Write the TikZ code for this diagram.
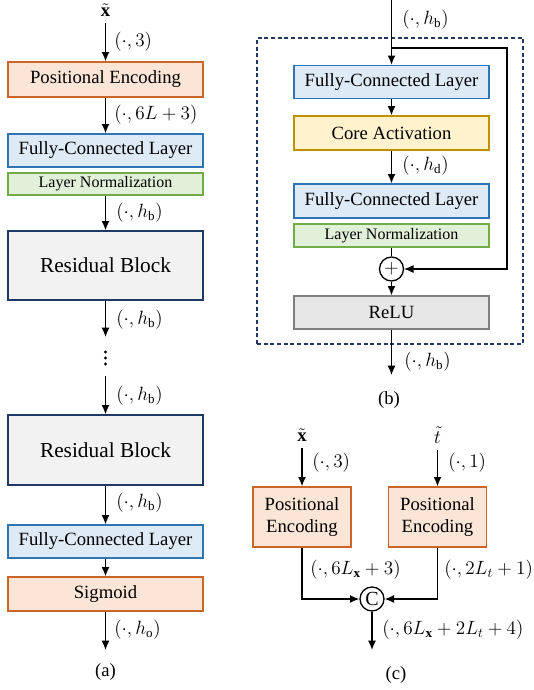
\documentclass[tikz,border=0pt]{standalone}
\usepackage{fontspec}
\setmainfont{Liberation Serif}
\usepackage{amsmath}
\usetikzlibrary{arrows.meta}
\definecolor{peF}{HTML}{FBE5D6}
\definecolor{peB}{RGB}{204,102,40}
\definecolor{fcF}{HTML}{DEEBF7}
\definecolor{fcB}{HTML}{2E75B6}
\definecolor{lnF}{HTML}{E2F0D9}
\definecolor{lnB}{HTML}{70AD47}
\definecolor{caF}{HTML}{FFF2CC}
\definecolor{caB}{HTML}{BF9000}
\definecolor{rbF}{HTML}{F2F2F2}
\definecolor{rbB}{HTML}{203864}
\definecolor{reF}{HTML}{E7E6E6}
\definecolor{reB}{HTML}{7F7F7F}
\begin{document}
\begin{tikzpicture}[x=0.75pt,y=-0.75pt,
  box/.style={draw, line width=1pt, minimum width=146.25pt, minimum height=24.75pt, inner sep=0pt, font=\fontsize{14}{16}\selectfont},
  pe/.style={box, draw=peB, fill=peF},
  fc/.style={box, draw=fcB, fill=fcF},
  lnbox/.style={box, draw=lnB, fill=lnF, minimum height=16.5pt, font=\fontsize{12}{14}\selectfont},
  rb/.style={box, draw=rbB, fill=rbF, font=\fontsize{16}{18}\selectfont},
  cabox/.style={box, draw=caB, fill=caF, minimum height=25.5pt},
  rebox/.style={box, draw=reB, fill=reF},
  pebig/.style={pe, minimum width=73.5pt, minimum height=45pt, align=center, font=\fontsize{14}{17}\selectfont},
  arr/.style={-{Latex[length=7pt,width=6pt]}, line width=1pt},
  lab/.style={anchor=west, inner sep=0pt, font=\fontsize{14}{16}\selectfont},
  captxt/.style={font=\fontsize{14}{16}\selectfont},
  var/.style={font=\fontsize{14}{16}\selectfont, inner sep=0pt, outer sep=5pt},
  opc/.style={draw, circle, line width=1pt, minimum size=18pt, inner sep=0pt, font=\fontsize{15}{16}\selectfont},
  dotmark/.style={fill=black, circle, inner sep=0pt, minimum size=2.6pt}
]
\useasboundingbox (0,0) rectangle (533,690);

% ---------- (a) ----------
\node[var] (xa) at (105.5,10) {$\tilde{\mathbf{x}}$};
\node[pe, minimum height=26.25pt] (pe1) at (105.5,79.5) {Positional Encoding};
\node[fc] (fc1) at (105.5,150.5) {Fully-Connected Layer};
\node[lnbox] (ln1) at (105.5,184) {Layer Normalization};
\node[rb, minimum height=51.75pt] (rb1) at (105.5,265.5) {Residual Block};
\coordinate (d1) at (105.5,337);
\node[dotmark] (dt1) at (105.5,352) {};
\node[dotmark] (dt2) at (105.5,358) {};
\node[dotmark] (dt3) at (105.5,364) {};
\coordinate (d2) at (105.5,376);
\node[rb, minimum height=52.5pt] (rb2) at (105.5,450) {Residual Block};
\node[fc] (fc2) at (105.5,541.5) {Fully-Connected Layer};
\node[pe, minimum height=25.5pt] (sig) at (105.5,594) {Sigmoid};
\coordinate (aout) at (105.5,650);
\node[captxt] (capa) at (105.5,672) {(a)};

\draw[arr] (xa) -- (pe1);
\draw[arr] (pe1) -- (fc1);
\draw[arr] (ln1) -- (rb1);
\draw[arr] (rb1) -- (d1);
\draw[arr] (d2) -- (rb2);
\draw[arr] (rb2) -- (fc2);
\draw[arr] (fc2) -- (sig);
\draw[arr] (sig) -- (aout);

\node[lab] (la1) at (114,42) {$(\cdot,3)$};
\node[lab] (la2) at (114,115) {$(\cdot,6L+3)$};
\node[lab] (la3) at (116,213) {$(\cdot,h_{\mathrm{b}})$};
\node[lab] (la4) at (116,320) {$(\cdot,h_{\mathrm{b}})$};
\node[lab] (la5) at (116,396) {$(\cdot,h_{\mathrm{b}})$};
\node[lab] (la6) at (116,503) {$(\cdot,h_{\mathrm{b}})$};
\node[lab] (la7) at (114,630) {$(\cdot,h_{\mathrm{o}})$};

% ---------- (b) ----------
\node[draw=rbB, dashed, dash pattern=on 3pt off 2pt, line width=1pt, minimum width=199.5pt, minimum height=229.5pt, inner sep=0pt] (frame) at (390,191) {};
\coordinate (btop) at (391.5,0);
\node[fc] (fc3) at (391.5,82) {Fully-Connected Layer};
\node[cabox] (ca) at (391.5,133) {Core Activation};
\node[fc, minimum height=25.5pt] (fc4) at (391.5,201) {Fully-Connected Layer};
\node[lnbox, minimum height=17.25pt] (ln2) at (391.5,235.5) {Layer Normalization};
\node[opc] (plus) at (391.5,269) {$+$};
\node[rebox] (relu) at (391.5,312.5) {ReLU};
\coordinate (bout) at (391.5,375);
\node[captxt] (capb) at (389,400) {(b)};
\coordinate (sk) at (391.5,48);
\coordinate (skc) at (507,48);

\draw[arr] (btop) -- (fc3);
\draw[arr] (fc3) -- (ca);
\draw[arr] (ca) -- (fc4);
\draw[line width=1pt] (ln2) -- (plus);
\draw[arr] (plus) -- (relu);
\draw[arr] (relu) -- (bout);
\draw[arr, line width=0.8pt] (sk) -- (skc) |- (plus);

\node[lab] (lb1) at (402,20) {$(\cdot,h_{\mathrm{b}})$};
\node[lab] (lb2) at (402,166) {$(\cdot,h_{\mathrm{d}})$};
\node[lab] (lb3) at (404,362) {$(\cdot,h_{\mathrm{b}})$};

% ---------- (c) ----------
\node[var] (xc) at (302,435) {$\tilde{\mathbf{x}}$};
\node[var] (tc) at (437.5,435) {$\tilde{t}$};
\node[pebig] (pe2) at (302,517) {Positional\\Encoding};
\node[pebig] (pe3) at (437.5,517) {Positional\\Encoding};
\node[opc] (cc) at (372,599) {C};
\coordinate (cout) at (372,650);
\node[captxt] (capc) at (396,675) {(c)};

\draw[arr] (xc) -- (pe2);
\draw[arr] (tc) -- (pe3);
\draw[arr] (pe2) |- (cc);
\draw[arr] (pe3) |- (cc);
\draw[arr] (cc) -- (cout);

\node[lab] (lc1) at (312,463) {$(\cdot,3)$};
\node[lab] (lc2) at (448,463) {$(\cdot,1)$};
\node[lab] (lc3) at (310,570) {$(\cdot,6L_{\mathbf{x}}+3)$};
\node[lab] (lc4) at (444,570) {$(\cdot,2L_t+1)$};
\node[lab] (lc5) at (382,630) {$(\cdot,6L_{\mathbf{x}}+2L_t+4)$};
\end{tikzpicture}
\end{document}
